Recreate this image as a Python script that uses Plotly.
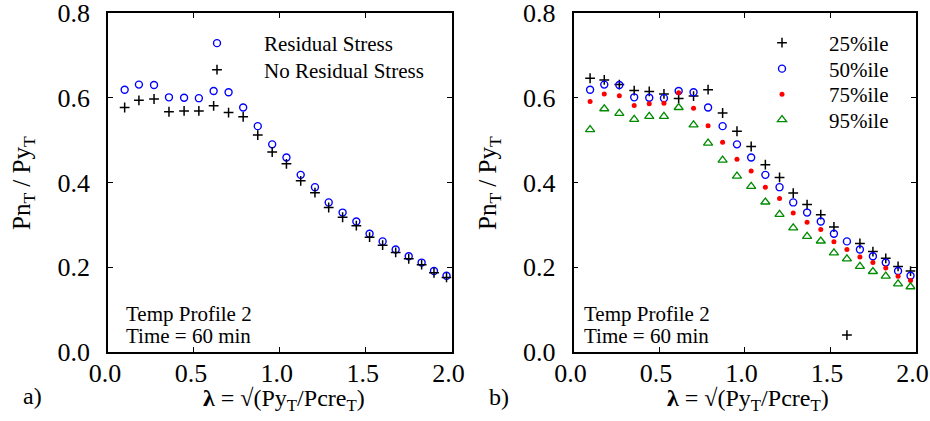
import plotly.graph_objects as go

# ---- data ----
lam = [0.097, 0.180, 0.268, 0.355, 0.443, 0.529, 0.615, 0.702, 0.787, 0.872, 0.956, 1.039,
       1.122, 1.205, 1.285, 1.366, 1.446, 1.523, 1.599, 1.675, 1.751, 1.826, 1.898, 1.971]

residual = [0.619, 0.631, 0.630, 0.601, 0.600, 0.599, 0.616, 0.613, 0.577, 0.533, 0.490, 0.459,
            0.418, 0.389, 0.353, 0.329, 0.308, 0.279, 0.261, 0.242, 0.226, 0.211, 0.191, 0.180]
no_residual = [0.577, 0.594, 0.597, 0.567, 0.569, 0.569, 0.581, 0.565, 0.555, 0.512, 0.472, 0.444,
               0.404, 0.376, 0.341, 0.318, 0.298, 0.271, 0.252, 0.235, 0.220, 0.206, 0.187, 0.176]

p25 = [0.646, 0.642, 0.631, 0.617, 0.615, 0.609, 0.598, 0.604, 0.619, 0.564, 0.521, 0.485,
       0.442, 0.412, 0.375, 0.348, 0.324, 0.295, 0.040, 0.256, 0.237, 0.221, 0.202, 0.191]
p50 = residual
p75 = [0.591, 0.609, 0.605, 0.582, 0.586, 0.587, 0.612, 0.575, 0.534, 0.495, 0.455, 0.427,
       0.389, 0.362, 0.328, 0.306, 0.289, 0.260, 0.242, 0.224, 0.211, 0.198, 0.179, 0.169]
p95 = [0.525, 0.574, 0.563, 0.549, 0.556, 0.556, 0.577, 0.536, 0.493, 0.453, 0.415, 0.391,
       0.354, 0.325, 0.293, 0.273, 0.262, 0.234, 0.220, 0.202, 0.190, 0.179, 0.161, 0.154]

x_ticks = [0.0, 0.5, 1.0, 1.5, 2.0]
y_ticks = [0.0, 0.2, 0.4, 0.6, 0.8]

FONT = "Liberation Serif"
BLUE = "#0000ff"
RED = "#ff0000"
GREEN = "#008a00"
BLACK = "#000000"

W, H = 930, 421

def circle(color):
    return dict(symbol="circle-open", size=7, color=color, line=dict(width=1.4, color=color))

cross = dict(symbol="cross-thin", size=7, color=BLACK, line=dict(width=1.5, color=BLACK))
dot = dict(symbol="circle", size=5, color=RED, line=dict(width=0))
tri = dict(symbol="triangle-up-open", size=8, color=GREEN, line=dict(width=1.3, color=GREEN))

# (name, y-values, marker, axis suffix, legend id)
series = [
    ("Residual Stress", residual, circle(BLUE), "", "legend"),
    ("No Residual Stress", no_residual, cross, "", "legend2"),
    ("25%ile", p25, cross, "2", "legend3"),
    ("50%ile", p50, circle(BLUE), "2", "legend4"),
    ("75%ile", p75, dot, "2", "legend5"),
    ("95%ile", p95, tri, "2", "legend6"),
]

fig = go.Figure()
for name, yv, mk, ax, lg in series:
    fig.add_trace(go.Scatter(x=lam, y=yv, mode="markers", marker=mk, name=name,
                             xaxis="x" + ax, yaxis="y" + ax, legend=lg))

ydom = [1 - 352 / H, 1 - 13 / H]
xdom1 = [108 / W, 451.5 / W]
xdom2 = [573.5 / W, 915.5 / W]

xtitle = "<b>λ</b> = √(Py<sub>T</sub>/Pcre<sub>T</sub>)"
ytitle = "Pn<sub>T</sub> / Py<sub>T</sub>"

def xax(dom, anchor):
    return dict(domain=dom, anchor=anchor, range=[0, 2], tickvals=x_ticks,
                ticktext=[f"{v:.1f}" for v in x_ticks],
                showline=True, linecolor=BLACK, linewidth=1.8, mirror="ticks",
                ticks="inside", ticklen=5, tickwidth=1, tickcolor=BLACK,
                showgrid=False, zeroline=False, tickfont=dict(family=FONT, size=26, color=BLACK),
                ticklabelstandoff=-3, ticklabelshift=-3, ticklabeloverflow="allow")

def yax(dom, anchor):
    return dict(domain=dom, anchor=anchor, range=[0, 0.8], tickvals=y_ticks,
                ticktext=[f"{v:.1f}" for v in y_ticks],
                showline=True, linecolor=BLACK, linewidth=1.8, mirror="ticks",
                ticks="inside", ticklen=5, tickwidth=1, tickcolor=BLACK,
                showgrid=False, zeroline=False, tickfont=dict(family=FONT, size=26, color=BLACK),
                ticklabelstandoff=11, ticklabeloverflow="allow")

def leg(xpx, ycenter):
    return dict(font=dict(family=FONT, size=21, color=BLACK), bgcolor="rgba(0,0,0,0)",
                borderwidth=0, itemwidth=84, xanchor="left", yanchor="top",
                x=xpx / W, y=1 - (ycenter - 19) / H)

def txt(text, x, y, size=21, xanchor="left", angle=0):
    return dict(text=text, x=x / W, y=1 - y / H, xref="paper", yref="paper",
                xanchor=xanchor, yanchor="middle", showarrow=False, textangle=angle,
                font=dict(family=FONT, size=size, color=BLACK))

annots = [
    txt("Temp Profile 2", 124, 314),
    txt("Time = 60 min", 124, 336),
    txt("Temp Profile 2", 582, 314),
    txt("Time = 60 min", 582, 336),
    txt("a)", 32, 396, 24, "center"),
    txt("b)", 499, 397, 24, "center"),
    txt(xtitle, 284, 400, 24, "center"),
    txt(xtitle, 748, 400, 24, "center"),
    txt(ytitle, 23, 183, 25, "center", -90),
    txt(ytitle, 489, 183, 25, "center", -90),
]

fig.update_layout(
    width=W, height=H,
    margin=dict(l=0, r=0, t=0, b=0, autoexpand=False),
    paper_bgcolor="white", plot_bgcolor="white",
    font=dict(family=FONT, color=BLACK),
    xaxis=xax(xdom1, "y"), yaxis=yax(ydom, "x"),
    xaxis2=xax(xdom2, "y2"), yaxis2=yax(ydom, "x2"),
    legend=leg(170, 42),
    legend2=leg(170, 68.5),
    legend3=leg(735, 41.5),
    legend4=leg(735, 67.5),
    legend5=leg(735, 93),
    legend6=leg(735, 118.5),
    annotations=annots,
    showlegend=True,
)

fig.write_html("out.html")
